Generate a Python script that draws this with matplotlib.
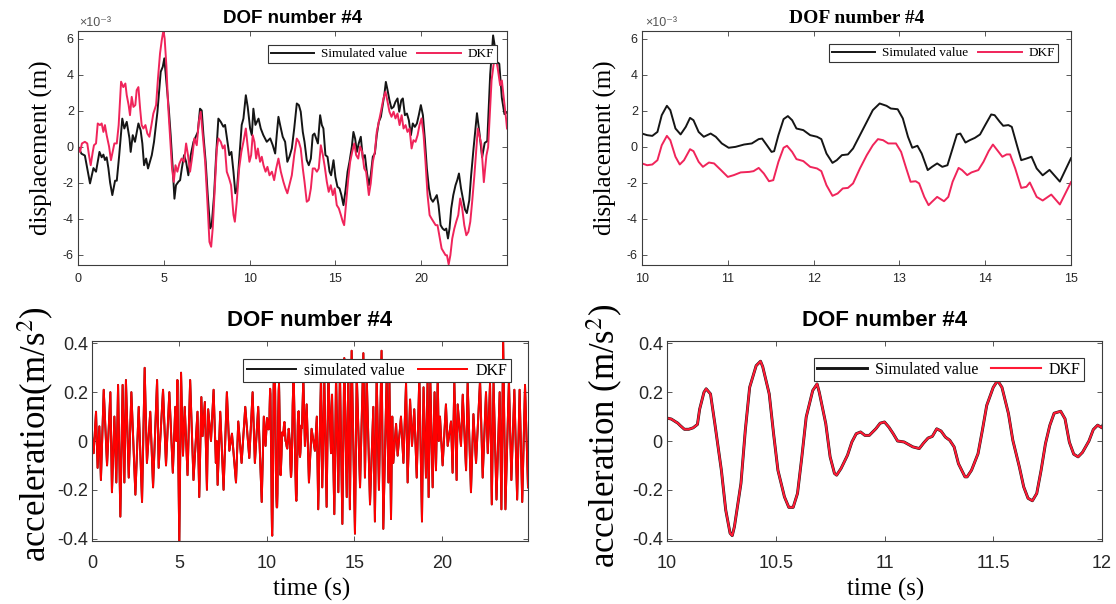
import matplotlib
matplotlib.use("Agg")
import matplotlib.pyplot as plt
import numpy as np

plt.rcParams['font.family'] = ['Liberation Sans', 'DejaVu Sans']
plt.rcParams['mathtext.fontset'] = 'stix'
plt.rcParams['axes.unicode_minus'] = False

# ---------------- data (displacement in units of 1e-3 m) ----------------
disp_sim = [(0.0,0.0),(0.2,-0.4),(0.4,-0.5),(0.7,-2.05),(0.9,-1.2),(1.05,-1.4),(1.25,-0.3),(1.38,-0.6),(1.48,-0.45),(1.57,-0.75),(1.67,-0.6),(1.77,-1.2),(1.87,-2.0),(2.0,-2.7),(2.16,-1.9),(2.26,-1.9),(2.4,-0.5),(2.58,1.55),(2.7,1.0),(2.84,1.37),(3.0,0.45),(3.07,-0.3),(3.19,0.63),(3.32,0.26),(3.52,1.28),(3.65,0.9),(3.75,0.17),(3.85,-1.04),(3.97,-0.67),(4.08,-1.22),(4.3,-0.48),(4.43,0.26),(4.63,1.93),(4.82,4.15),(4.94,4.43),(5.03,4.9),(5.17,3.4),(5.29,2.1),(5.4,0.63),(5.52,-1.22),(5.62,-2.9),(5.71,-2.15),(5.85,-1.96),(5.95,-1.87),(6.05,-1.22),(6.18,-0.48),(6.3,-0.85),(6.43,-1.6),(6.57,-0.48),(6.73,0.26),(6.82,0.45),(6.98,0.8),(7.11,2.1),(7.21,2.0),(7.31,0.63),(7.44,-0.85),(7.56,-2.7),(7.7,-4.55),(7.79,-4.37),(7.93,-2.7),(8.05,-0.48),(8.18,1.55),(8.32,1.37),(8.47,1.1),(8.57,1.2),(8.71,0.26),(8.82,-0.48),(8.94,-0.3),(9.06,-1.4),(9.17,-2.6),(9.27,-2.33),(9.41,-0.48),(9.54,1.2),(9.64,1.55),(9.78,2.85),(9.89,2.2),(10.03,1.0),(10.13,0.63),(10.22,2.1),(10.34,1.2),(10.52,1.55),(10.65,1.0),(10.8,0.63),(11.0,0.26),(11.2,0.45),(11.35,0.07),(11.49,-0.39),(11.58,0.63),(11.68,1.65),(11.78,1.19),(11.93,0.54),(12.07,0.26),(12.2,-0.85),(12.32,-0.57),(12.46,-0.11),(12.6,1.0),(12.75,2.39),(12.87,2.3),(12.98,1.93),(13.1,0.81),(13.2,0.26),(13.33,-0.76),(13.45,-1.04),(13.57,-0.67),(13.68,0.63),(13.78,0.72),(13.88,0.44),(13.98,0.17),(14.11,1.74),(14.21,1.19),(14.3,1.0),(14.42,-0.48),(14.54,-0.57),(14.66,-1.4),(14.75,-1.6),(14.89,-0.76),(15.0,-1.69),(15.12,-2.24),(15.24,-2.33),(15.35,-2.7),(15.47,-3.26),(15.59,-2.43),(15.71,-1.4),(15.82,-0.85),(15.96,0.0),(16.05,0.81),(16.15,0.44),(16.25,-0.3),(16.36,0.17),(16.48,0.54),(16.6,-0.67),(16.72,-0.48),(16.83,-1.4),(16.95,-2.15),(17.06,-1.6),(17.18,-0.57),(17.3,-0.39),(17.41,0.63),(17.53,1.37),(17.65,1.65),(17.77,2.39),(17.86,2.94),(17.94,3.59),(18.04,3.13),(18.15,2.57),(18.27,2.11),(18.39,2.2),(18.5,2.48),(18.62,2.67),(18.72,1.93),(18.84,2.57),(18.93,2.67),(19.05,1.74),(19.17,1.83),(19.28,1.46),(19.4,0.63),(19.51,1.28),(19.63,1.09),(19.75,1.28),(19.86,1.74),(19.98,2.3),(20.1,1.74),(20.21,0.44),(20.33,-1.22),(20.45,-2.33),(20.56,-2.89),(20.68,-3.07),(20.8,-2.89),(20.91,-2.7),(21.01,-3.26),(21.13,-4.37),(21.25,-4.56),(21.36,-4.65),(21.46,-4.56),(21.56,-5.11),(21.65,-4.56),(21.75,-3.44),(21.87,-2.7),(22.0,-2.15),(22.1,-1.87),(22.2,-1.5),(22.32,-2.33),(22.43,-2.9),(22.55,-3.5),(22.66,-3.7),(22.8,-3.0),(22.91,-1.6),(23.05,-0.11),(23.25,1.85),(23.4,0.7),(23.55,-0.6),(23.7,0.2),(23.85,0.3),(24.02,4.0),(24.19,6.17),(24.3,5.5),(24.4,4.7),(24.55,4.6),(24.7,2.7),(24.85,1.8),(25.0,1.9)]

disp_dkf = [(0.0,0.0),(0.12,-0.3),(0.23,0.17),(0.4,0.26),(0.54,0.17),(0.64,-0.48),(0.74,-1.04),(0.86,-0.3),(0.93,0.07),(1.05,0.17),(1.15,1.28),(1.28,1.19),(1.38,1.28),(1.48,0.81),(1.57,1.19),(1.67,0.63),(1.81,0.0),(1.92,-0.76),(2.02,-0.3),(2.12,0.17),(2.26,0.17),(2.37,1.19),(2.51,3.6),(2.64,3.3),(2.76,3.5),(2.84,2.85),(2.95,2.3),(3.03,1.74),(3.13,2.76),(3.23,2.2),(3.34,2.3),(3.42,3.13),(3.52,3.3),(3.62,2.1),(3.71,1.19),(3.81,1.0),(3.93,1.19),(4.04,0.72),(4.16,0.54),(4.28,1.19),(4.39,1.83),(4.55,2.3),(4.66,3.78),(4.78,5.17),(4.88,5.9),(4.98,6.46),(5.05,6.0),(5.15,4.5),(5.25,2.3),(5.37,0.45),(5.48,-1.22),(5.58,-1.96),(5.68,-1.04),(5.79,-1.4),(5.91,-0.94),(6.04,-0.67),(6.18,-0.85),(6.3,0.17),(6.41,-0.48),(6.53,-1.4),(6.67,-0.48),(6.78,0.45),(6.92,0.07),(7.04,1.37),(7.15,1.93),(7.27,0.63),(7.41,-0.85),(7.54,-3.07),(7.66,-5.3),(7.76,-5.57),(7.85,-4.55),(7.97,-2.33),(8.09,-0.11),(8.18,0.45),(8.32,0.26),(8.44,-0.11),(8.55,0.07),(8.67,-1.4),(8.81,-1.78),(8.92,-2.15),(9.06,-3.8),(9.14,-4.18),(9.25,-3.07),(9.39,-1.22),(9.52,-0.3),(9.64,0.26),(9.78,1.0),(9.88,0.07),(9.99,-0.85),(10.09,-0.48),(10.18,0.63),(10.28,0.26),(10.38,-0.67),(10.48,-0.11),(10.61,-0.85),(10.71,-0.57),(10.81,-1.04),(10.93,-1.4),(11.04,-1.13),(11.16,-1.6),(11.3,-1.4),(11.43,-1.87),(11.55,-1.22),(11.68,-0.67),(11.82,-1.4),(11.97,-1.96),(12.09,-2.33),(12.2,-2.6),(12.32,-2.15),(12.46,-1.6),(12.6,-0.48),(12.75,0.44),(12.87,0.26),(12.98,-0.11),(13.1,-1.22),(13.2,-1.96),(13.33,-3.07),(13.45,-2.98),(13.57,-2.33),(13.68,-1.22),(13.8,-1.22),(13.92,-1.4),(14.03,-1.22),(14.15,0.07),(14.27,-0.48),(14.38,-1.13),(14.5,-1.96),(14.61,-2.52),(14.73,-2.15),(14.85,-2.7),(14.96,-2.33),(15.08,-3.26),(15.2,-3.44),(15.32,-3.81),(15.43,-4.18),(15.51,-4.37),(15.63,-3.07),(15.75,-1.78),(15.86,-0.85),(15.98,-0.3),(16.1,0.17),(16.21,-0.48),(16.33,-0.67),(16.44,0.0),(16.56,-0.3),(16.68,-1.22),(16.79,-1.4),(16.95,-2.7),(17.06,-2.05),(17.18,-0.85),(17.3,-0.3),(17.41,0.81),(17.53,1.37),(17.65,1.93),(17.8,2.67),(17.92,3.04),(18.04,2.48),(18.15,1.93),(18.27,1.65),(18.39,1.93),(18.5,1.56),(18.62,1.83),(18.74,1.19),(18.86,1.74),(18.97,1.0),(19.09,1.19),(19.2,0.81),(19.32,1.0),(19.44,-0.11),(19.55,0.35),(19.67,0.26),(19.79,0.63),(19.9,1.19),(20.02,1.56),(20.14,0.63),(20.25,-0.85),(20.37,-2.7),(20.49,-3.81),(20.6,-4.0),(20.72,-4.18),(20.84,-4.37),(20.95,-4.37),(21.07,-5.02),(21.19,-5.67),(21.3,-5.85),(21.42,-6.04),(21.5,-6.04),(21.6,-6.55),(21.7,-6.04),(21.81,-5.11),(21.93,-4.56),(22.04,-4.18),(22.16,-3.81),(22.27,-2.89),(22.39,-3.44),(22.51,-4.37),(22.63,-4.93),(22.75,-4.74),(22.86,-4.18),(22.97,-3.07),(23.1,-1.6),(23.2,-0.3),(23.3,1.0),(23.5,0.15),(23.65,-1.98),(23.8,-0.5),(23.9,-0.04),(24.1,3.67),(24.3,5.15),(24.45,4.4),(24.6,3.4),(24.7,3.67),(24.85,2.4),(24.95,1.5),(25.0,1.0)]

zoom_sim = [(10.0,0.72),(10.06,0.63),(10.12,0.59),(10.18,0.81),(10.23,1.74),(10.29,2.26),(10.33,2.02),(10.39,1.0),(10.45,0.67),(10.51,1.09),(10.56,1.59),(10.6,1.46),(10.66,0.81),(10.72,0.54),(10.8,0.72),(10.86,0.54),(10.93,0.17),(11.01,-0.07),(11.09,-0.02),(11.19,0.11),(11.28,0.17),(11.36,0.41),(11.4,0.44),(11.46,0.04),(11.51,-0.3),(11.54,-0.26),(11.59,0.63),(11.65,1.52),(11.7,1.69),(11.75,1.46),(11.8,1.0),(11.88,0.91),(11.96,0.63),(12.04,0.54),(12.09,0.41),(12.15,-0.39),(12.22,-0.91),(12.27,-0.76),(12.33,-0.48),(12.4,-0.44),(12.46,-0.11),(12.54,0.63),(12.62,1.37),(12.69,2.02),(12.77,2.39),(12.85,2.26),(12.9,2.11),(12.98,2.07),(13.04,1.56),(13.1,0.54),(13.15,-0.07),(13.21,0.04),(13.26,-0.39),(13.33,-1.31),(13.38,-1.13),(13.44,-0.94),(13.5,-1.13),(13.56,-1.04),(13.62,-0.11),(13.67,0.67),(13.71,0.72),(13.77,0.22),(13.82,0.35),(13.88,0.48),(13.94,0.67),(14.0,1.19),(14.07,1.78),(14.11,1.74),(14.17,1.37),(14.21,1.15),(14.27,1.19),(14.31,1.09),(14.37,0.07),(14.42,-0.76),(14.48,-0.67),(14.54,-0.57),(14.6,-1.22),(14.67,-1.6),(14.75,-1.3),(14.87,-1.95),(15.0,-0.65)]

zoom_dkf = [(10.0,-0.94),(10.06,-1.04),(10.12,-1.0),(10.18,-0.76),(10.23,0.07),(10.29,0.59),(10.33,0.35),(10.39,-0.57),(10.44,-1.0),(10.49,-0.76),(10.56,-0.15),(10.6,-0.26),(10.66,-0.85),(10.71,-1.13),(10.78,-0.89),(10.84,-0.94),(10.92,-1.31),(11.0,-1.69),(11.07,-1.59),(11.15,-1.44),(11.25,-1.41),(11.3,-1.37),(11.36,-1.19),(11.42,-1.5),(11.48,-1.93),(11.53,-1.87),(11.59,-0.85),(11.65,-0.07),(11.69,0.04),(11.75,-0.3),(11.8,-0.7),(11.88,-0.81),(11.96,-1.13),(12.04,-1.22),(12.09,-1.37),(12.15,-2.15),(12.22,-2.74),(12.28,-2.61),(12.34,-2.33),(12.4,-2.3),(12.46,-2.05),(12.54,-1.22),(12.62,-0.48),(12.69,0.07),(12.75,0.41),(12.81,0.35),(12.87,0.17),(12.96,0.17),(13.02,-0.3),(13.08,-1.22),(13.13,-1.96),(13.19,-1.93),(13.23,-2.05),(13.29,-2.8),(13.34,-3.26),(13.38,-3.07),(13.44,-2.8),(13.52,-3.04),(13.57,-2.8),(13.62,-1.96),(13.69,-1.19),(13.73,-1.31),(13.79,-1.59),(13.84,-1.44),(13.92,-1.31),(13.98,-0.85),(14.04,-0.26),(14.09,0.11),(14.14,-0.2),(14.2,-0.57),(14.25,-0.44),(14.29,-0.44),(14.35,-1.22),(14.42,-2.3),(14.48,-2.24),(14.52,-2.0),(14.6,-2.8),(14.67,-3.0),(14.77,-2.67),(14.87,-3.22),(15.0,-1.98)]

# acceleration (m/s^2), simulated and DKF overlap
acc = [(0.0,0.02),(0.095,-0.05),(0.23,0.12),(0.32,-0.11),(0.42,0.06),(0.51,-0.16),(0.67,0.21),(0.86,-0.10),(1.05,0.20),(1.14,-0.21),(1.28,0.10),(1.39,-0.17),(1.49,0.23),(1.62,-0.31),(1.75,0.23),(1.85,-0.17),(1.94,0.25),(2.1,-0.15),(2.25,0.20),(2.48,-0.22),(2.67,0.14),(2.86,-0.25),(3.01,0.30),(3.14,-0.09),(3.33,0.12),(3.49,-0.19),(3.72,0.25),(3.81,-0.11),(4.06,0.21),(4.23,-0.10),(4.42,0.20),(4.62,-0.13),(4.76,0.14),(4.82,0.0),(4.88,0.25),(4.99,-0.42),(5.09,0.28),(5.2,-0.06),(5.3,0.14),(5.46,-0.14),(5.61,0.25),(5.8,-0.16),(6.03,0.12),(6.13,-0.23),(6.25,0.18),(6.32,0.02),(6.45,0.16),(6.57,-0.20),(6.64,0.13),(6.8,0.0),(6.95,0.21),(7.08,-0.09),(7.13,0.0),(7.18,-0.18),(7.33,0.12),(7.52,-0.20),(7.71,0.20),(7.85,-0.04),(8.0,0.03),(8.23,-0.17),(8.36,0.08),(8.55,-0.09),(8.76,0.14),(8.99,-0.07),(9.18,0.20),(9.31,-0.09),(9.5,0.14),(9.7,-0.25),(9.82,0.10),(9.92,-0.02),
       (10.0,0.094),(10.02,0.09),(10.05,0.073),(10.06,0.064),(10.08,0.048),(10.1,0.048),(10.12,0.054),(10.14,0.068),(10.15,0.13),(10.17,0.2),(10.18,0.214),(10.2,0.193),(10.22,0.071),(10.25,-0.12),(10.27,-0.283),(10.29,-0.378),(10.3,-0.388),(10.31,-0.351),(10.34,-0.174),(10.36,0.044),(10.38,0.22),(10.41,0.309),(10.43,0.327),(10.44,0.305),(10.47,0.193),(10.49,0.03),(10.51,-0.12),(10.54,-0.229),(10.56,-0.272),(10.58,-0.272),(10.6,-0.215),(10.62,-0.065),(10.64,0.098),(10.67,0.207),(10.69,0.234),(10.7,0.2),(10.73,0.071),(10.75,-0.065),(10.77,-0.133),(10.78,-0.14),(10.8,-0.113),(10.83,-0.058),(10.85,-0.004),(10.87,0.03),(10.89,0.037),(10.91,0.023),(10.93,0.023),(10.96,0.05),(10.98,0.073),(11.0,0.078),(11.02,0.057),(11.04,0.03),(11.06,0.0),(11.09,-0.004),(11.11,-0.014),(11.13,-0.024),(11.16,-0.031),(11.18,-0.008),(11.2,0.012),(11.22,0.019),(11.24,0.05),(11.26,0.041),(11.28,0.016),(11.3,0.003),(11.32,-0.024),(11.34,-0.093),(11.37,-0.147),(11.38,-0.147),(11.4,-0.12),(11.43,-0.052),(11.45,0.044),(11.47,0.146),(11.5,0.22),(11.52,0.248),(11.54,0.22),(11.57,0.112),(11.59,0.003),(11.62,-0.106),(11.64,-0.188),(11.66,-0.235),(11.68,-0.245),(11.7,-0.215),(11.72,-0.12),(11.74,-0.011),(11.76,0.064),(11.78,0.114),(11.81,0.122),(11.83,0.091),(11.85,-0.005),(11.87,-0.054),(11.89,-0.065),(11.91,-0.047),(11.94,0.0),(11.96,0.047),(11.98,0.065),(12.0,0.054),
       (12.08,0.26),(12.17,-0.02),(12.27,0.15),(12.4,-0.17),(12.55,0.05),(12.74,-0.04),(12.85,0.10),(12.93,-0.28),(13.09,0.27),(13.16,-0.19),(13.28,0.25),(13.41,-0.27),(13.51,0.28),(13.66,-0.05),(13.72,0.19),(13.85,-0.30),(13.95,0.27),(14.08,-0.21),(14.17,0.29),(14.31,-0.34),(14.42,0.34),(14.56,-0.23),(14.65,0.28),(14.74,-0.28),(14.84,0.37),(15.03,-0.38),(15.13,0.28),(15.32,-0.19),(15.51,0.36),(15.6,-0.15),(15.7,0.27),(15.89,-0.26),(16.08,0.14),(16.17,-0.33),(16.27,0.27),(16.4,-0.20),(16.55,0.37),(16.65,-0.36),(16.84,0.26),(16.94,-0.17),(17.0,0.25),(17.09,-0.32),(17.16,0.10),(17.22,-0.09),(17.38,0.07),(17.47,-0.06),(17.66,0.10),(17.8,-0.09),(17.95,0.24),(18.04,-0.17),(18.18,0.17),(18.29,-0.02),(18.42,0.13),(18.56,-0.15),(18.71,0.27),(18.86,-0.33),(18.95,0.22),(19.09,-0.15),(19.18,0.25),(19.24,-0.23),(19.34,0.24),(19.47,-0.19),(19.58,0.20),(19.66,-0.12),(19.76,0.26),(19.82,0.0),(19.89,0.10),(20.04,-0.10),(20.23,0.15),(20.33,-0.02),(20.52,0.08),(20.61,-0.13),(20.71,0.24),(20.84,-0.16),(20.9,0.15),(21.09,-0.02),(21.19,0.19),(21.38,-0.12),(21.47,0.24),(21.66,-0.21),(21.8,0.11),(21.95,-0.09),(22.18,0.25),(22.33,-0.15),(22.52,0.20),(22.62,-0.05),(22.75,0.24),(22.85,-0.26),(22.95,0.24),(23.12,-0.24),(23.3,0.20),(23.4,-0.28),(23.5,0.41),(23.63,-0.28),(23.83,0.25),(23.97,-0.16),(24.14,0.21),(24.3,-0.24),(24.44,0.21),(24.59,-0.25),(24.75,0.23),(24.92,-0.19)]

disp_yticks = [-6, -4, -2, 0, 2, 4, 6]
acc_yticks = [-0.4, -0.2, 0, 0.2, 0.4]
title_text = "DOF number #4"
legend_labels_top = ["Simulated value", "DKF"]
legend_labels_bl = ["simulated value", "DKF"]

# ---------------- figure ----------------
W, H = 1116, 604
fig = plt.figure(figsize=(W / 100, H / 100), dpi=100)

def ax_at(x0, x1, y0, y1):
    return fig.add_axes([x0 / W, 1 - y1 / H, (x1 - x0) / W, (y1 - y0) / H])

def arr(pairs):
    a = np.array(pairs, dtype=float)
    return a[:, 0], a[:, 1]

def style(ax, fs, padx, pady):
    for s in ax.spines.values():
        s.set_color('#3c3c3c')
        s.set_linewidth(0.8)
    ax.tick_params(direction='in', top=True, right=True, length=3.5, width=0.6,
                   color='#3c3c3c', labelsize=fs, labelcolor='#262626')
    ax.tick_params(axis='x', pad=padx)
    ax.tick_params(axis='y', pad=pady)
    ax.xaxis.set_major_formatter(plt.FuncFormatter(lambda v, p: '%g' % v))
    ax.yaxis.set_major_formatter(plt.FuncFormatter(lambda v, p: '%g' % v))

def legend(ax, labels, fs, anchor, hl):
    leg = ax.legend(labels, ncol=2, loc='upper right', bbox_to_anchor=anchor,
                    borderaxespad=0, prop={'family': 'Liberation Serif', 'size': fs},
                    handlelength=hl, handletextpad=0.5, columnspacing=0.8,
                    borderpad=0.22, fancybox=False, framealpha=1, edgecolor='#333333')
    leg.get_frame().set_linewidth(0.8)
    return leg

RED_TOP = '#f0245a'
BLACK = '#151515'

# ---- top-left ----
ax1 = ax_at(78, 507, 31.3, 265.3)
t, v = arr(disp_sim)
ax1.plot(t, v, color=BLACK, lw=1.4)
t, v = arr(disp_dkf)
ax1.plot(t, v, color=RED_TOP, lw=1.4)
ax1.set_xlim(0, 25)
ax1.set_ylim(-6.6, 6.4)
ax1.set_yticks(disp_yticks)
ax1.set_xticks([0, 5, 10, 15, 20])
style(ax1, 9, 5.5, 3)
legend(ax1, legend_labels_top, 9.5, ((497 - 78) / 429, 1 - (45 - 31.3) / 234), 3.3)
ax1.annotate('×10⁻³', xy=(0, 1), xycoords='axes fraction', xytext=(1, 2),
             textcoords='offset points', ha='left', va='bottom', fontsize=9,
             color='#555555', family=['Liberation Sans', 'DejaVu Sans'])

# ---- top-right ----
ax2 = ax_at(642, 1071, 31.3, 265.3)
t, v = arr(zoom_sim)
ax2.plot(t, v, color=BLACK, lw=1.4)
t, v = arr(zoom_dkf)
ax2.plot(t, v, color=RED_TOP, lw=1.4)
ax2.set_xlim(10, 15)
ax2.set_ylim(-6.6, 6.4)
ax2.set_yticks(disp_yticks)
ax2.set_xticks([10, 11, 12, 13, 14, 15])
style(ax2, 9, 5.5, 3)
legend(ax2, legend_labels_top, 9.5, ((1058 - 642) / 429, 1 - (44.3 - 31.3) / 234), 3.3)
ax2.annotate('×10⁻³', xy=(0, 1), xycoords='axes fraction', xytext=(2, 2),
             textcoords='offset points', ha='left', va='bottom', fontsize=9,
             color='#555555', family=['Liberation Sans', 'DejaVu Sans'])

# ---- bottom-left ----
ax3 = ax_at(92, 528, 341, 541)
t, v = arr(acc)
ax3.plot(t, v, color=BLACK, lw=1.4)
ax3.plot(t, v, color='#ff0000', lw=1.4)
ax3.set_xlim(0, 24.92)
ax3.set_ylim(-0.41, 0.41)
ax3.set_yticks(acc_yticks)
ax3.set_xticks([0, 5, 10, 15, 20])
style(ax3, 13, 10, 3)
legend(ax3, legend_labels_bl, 11.5, ((510.7 - 92) / 436, 1 - (359 - 341) / 200), 3.1)

# ---- bottom-right ----
ax4 = ax_at(667, 1102, 341, 541)
ax4.plot(t, v, color=BLACK, lw=2.1)
ax4.plot(t, v, color='#ff1a35', lw=1.5)
ax4.set_xlim(10, 12)
ax4.set_ylim(-0.41, 0.41)
ax4.set_yticks(acc_yticks)
ax4.set_xticks([10, 10.5, 11, 11.5, 12])
style(ax4, 13, 10, 3)
legend(ax4, legend_labels_top, 11.5, ((1084 - 667) / 435, 1 - (358 - 341) / 200), 3.1)

# ---- titles & labels ----
def ftext(x, y, s, **kw):
    fig.text(x / W, 1 - y / H, s, ha='center', va='center', **kw)

ftext(292.5, 18.5, title_text, fontsize=13.5, fontweight='bold', family='Liberation Sans')
ftext(857, 18.5, title_text, fontsize=14, fontweight='bold', family='Liberation Serif')
ftext(310, 321, title_text, fontsize=16, fontweight='bold', family='Liberation Sans')
ftext(884.5, 321, title_text, fontsize=16, fontweight='bold', family='Liberation Sans')

ftext(41, 148, 'displacement (m)', fontsize=18, rotation=90, family='Liberation Serif')
ftext(605, 148, 'displacement (m)', fontsize=18, rotation=90, family='Liberation Serif')
ftext(36, 434, r'acceleration(m/s$^{2}$)', fontsize=25, rotation=90, family='Liberation Serif')
ftext(605, 436, r'acceleration (m/s$^{2}$)', fontsize=25, rotation=90, family='Liberation Serif')

ftext(312, 589, 'time (s)', fontsize=18, family='Liberation Serif')
ftext(886, 589, 'time (s)', fontsize=18, family='Liberation Serif')

fig.savefig('out.png', dpi=100, facecolor='white')
